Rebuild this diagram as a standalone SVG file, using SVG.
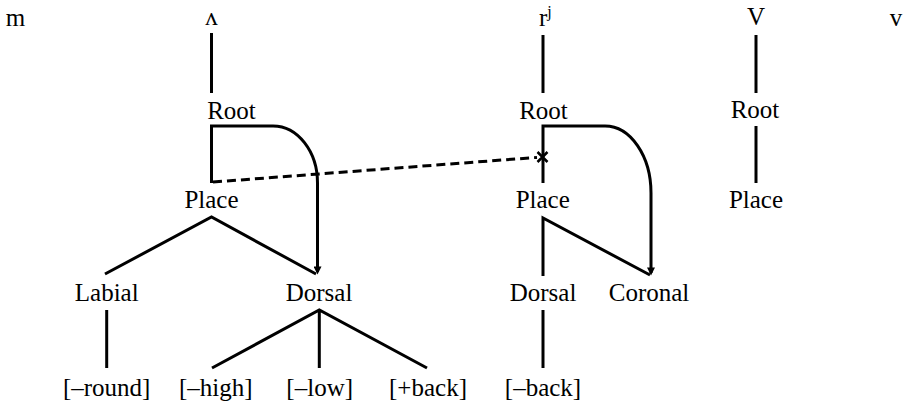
<svg xmlns="http://www.w3.org/2000/svg" width="911" height="402" viewBox="0 0 911 402">
<style>
text{font-family:"Liberation Serif","Times New Roman","DejaVu Serif",serif;font-size:25px;fill:#000;text-anchor:middle}
.ln{fill:none;stroke:#000;stroke-width:3}
.dash{fill:none;stroke:#000;stroke-width:3;stroke-dasharray:9 5}
.x{fill:none;stroke:#000;stroke-width:2.5}
</style>
<defs>
<marker id="ah" viewBox="0 0 10 10" refX="7" refY="5" markerUnits="userSpaceOnUse" markerWidth="11" markerHeight="8" orient="auto">
<path d="M0,0 L10,5 L0,10 z" fill="#000"/>
</marker>
</defs>
<g id="connectors">
<line class="ln" x1="211.5" y1="33" x2="211.5" y2="93"/>
<line class="ln" x1="543" y1="35" x2="543" y2="93"/>
<line class="ln" x1="756" y1="35" x2="756" y2="93"/>
<line class="ln" x1="756" y1="126" x2="756" y2="183"/>
<path class="ln" d="M211.5,183 V126 H273 A44.5,57 0 0 1 317.5,183 V272" marker-end="url(#ah)"/>
<path class="ln" d="M105,274 L211.5,217 L316,274"/>
<line class="dash" x1="213" y1="182" x2="537" y2="157.4"/>
<path class="x" d="M537.5,152 L547.5,162 M547.5,152 L537.5,162"/>
<path class="ln" d="M543,183 V126 H605 A46,67 0 0 1 651,193 V273" marker-end="url(#ah)"/>
<path class="ln" d="M543,276 V218 L650,275"/>
<line class="ln" x1="106.7" y1="310" x2="106.7" y2="368"/>
<path class="ln" d="M212,368 L319.3,310 L427,368 M319.3,310 V368"/>
<line class="ln" x1="543" y1="310" x2="543" y2="368"/>
</g>
<g id="seg-m"><text x="15.5" y="26">m</text></g>
<g id="seg-wedge"><text x="211.5" y="25">ʌ</text></g>
<g id="seg-rj"><text x="539" y="26" style="text-anchor:start">r<tspan font-size="16" dy="-9">j</tspan></text></g>
<g id="seg-V"><text x="756" y="25">V</text></g>
<g id="seg-v"><text x="896" y="26">v</text></g>
<g id="root1"><text x="231.5" y="119">Root</text></g>
<g id="root2"><text x="543.5" y="119">Root</text></g>
<g id="root3"><text x="755" y="118">Root</text></g>
<g id="place1"><text x="211.5" y="208">Place</text></g>
<g id="place2"><text x="542.7" y="208">Place</text></g>
<g id="place3"><text x="756" y="208">Place</text></g>
<g id="labial"><text x="106.7" y="301">Labial</text></g>
<g id="dorsal1"><text x="319" y="301">Dorsal</text></g>
<g id="dorsal2"><text x="543" y="301">Dorsal</text></g>
<g id="coronal"><text x="649" y="301">Coronal</text></g>
<g id="round"><text x="106.7" y="396">[–round]</text></g>
<g id="high"><text x="215.8" y="396">[–high]</text></g>
<g id="low"><text x="319.7" y="396">[–low]</text></g>
<g id="pback"><text x="428" y="396">[+back]</text></g>
<g id="mback"><text x="543" y="396">[–back]</text></g>
</svg>
